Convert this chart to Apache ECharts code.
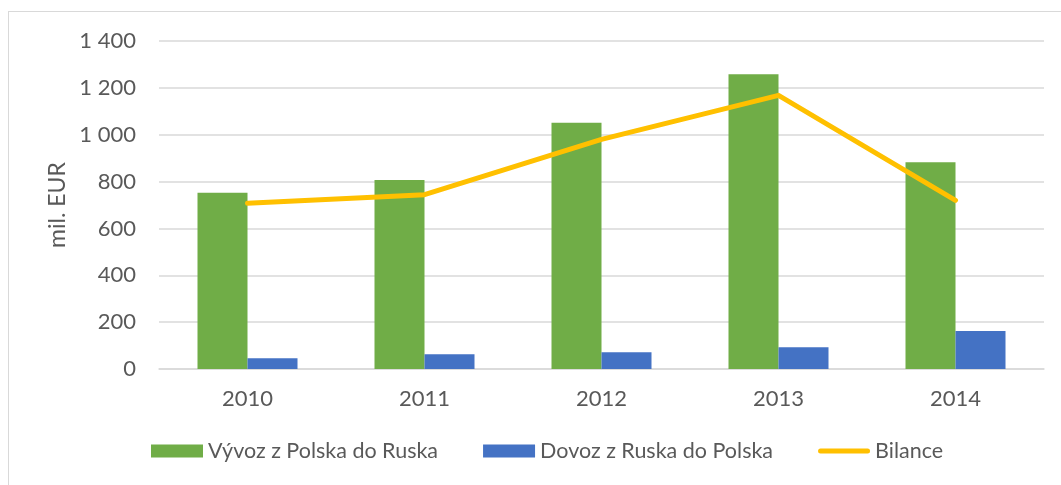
<!DOCTYPE html>
<html>
<head>
<meta charset="utf-8">
<script src="https://cdn.jsdelivr.net/npm/echarts@6/dist/echarts.min.js"></script>
<style>
  body { margin: 0; background: #fff; overflow: hidden; }
  .frame {
    position: absolute;
    left: 8px;
    top: 11px;
    width: 1100px;
    height: 520px;
    border: 1px solid #d9d9d9;
  }
  #chart {
    position: absolute;
    top: 0;
    left: 0;
    width: 1061px;
    height: 485px;
  }
</style>
</head>
<body>
<div class="frame"></div>
<div id="chart"></div>
<script>
  // data
  const years = ['2010', '2011', '2012', '2013', '2014'];
  const vyvoz = [752, 807, 1051, 1258, 882];   // Vývoz z Polska do Ruska
  const dovoz = [46, 63, 71, 93, 162];         // Dovoz z Ruska do Polska
  const bilance = [707, 744, 980, 1168, 720];  // Bilance

  const textColor = '#595959';
  const font = 'Lato, "Liberation Sans", sans-serif';

  let myChart = echarts.init(document.getElementById('chart'));
  let option = {
    animation: false,
    grid: {
      left: 159,
      right: 17,
      top: 41,
      bottom: 116
    },
    legend: {
      bottom: 18,
      left: 146,
      itemWidth: 52,
      itemHeight: 13,
      itemGap: 45,
      textStyle: { color: textColor, fontSize: 21.5, fontFamily: font },
      data: [
        { name: 'Vývoz z Polska do Ruska', icon: 'rect' },
        { name: 'Dovoz z Ruska do Polska', icon: 'rect' },
        { name: 'Bilance', icon: 'path://M2.5,0 H49.5 A2.5,2.5 0 0 1 49.5,5 H2.5 A2.5,2.5 0 0 1 2.5,0 Z' }
      ]
    },
    xAxis: {
      type: 'category',
      data: years,
      axisTick: { show: false },
      axisLine: { lineStyle: { color: '#d9d9d9', width: 1.5 } },
      axisLabel: { color: textColor, fontSize: 22, fontFamily: font, margin: 19 }
    },
    yAxis: {
      type: 'value',
      min: 0,
      max: 1400,
      interval: 200,
      name: 'mil. EUR',
      nameLocation: 'middle',
      nameGap: 90,
      nameMoveOverlap: false,
      nameTextStyle: { color: textColor, fontSize: 23, fontFamily: font },
      axisLine: { show: false },
      axisTick: { show: false },
      axisLabel: {
        color: textColor,
        fontSize: 22,
        fontFamily: font,
        margin: 23,
        formatter: function (v) {
          return String(v).replace(/\B(?=(\d{3})+(?!\d))/g, ' ');
        }
      },
      splitLine: { lineStyle: { color: '#d9d9d9', width: 1.5 } }
    },
    series: [
      {
        name: 'Vývoz z Polska do Ruska',
        type: 'bar',
        barWidth: 50,
        barGap: '0%',
        itemStyle: { color: '#70ad47' },
        data: vyvoz
      },
      {
        name: 'Dovoz z Ruska do Polska',
        type: 'bar',
        barWidth: 50,
        barGap: '0%',
        itemStyle: { color: '#4472c4' },
        data: dovoz
      },
      {
        name: 'Bilance',
        type: 'line',
        symbol: 'none',
        z: 5,
        lineStyle: { color: '#ffc000', width: 5, cap: 'round', join: 'round' },
        itemStyle: { color: '#ffc000' },
        data: bilance
      }
    ]
  };
  myChart.setOption(option);
</script>
</body>
</html>
